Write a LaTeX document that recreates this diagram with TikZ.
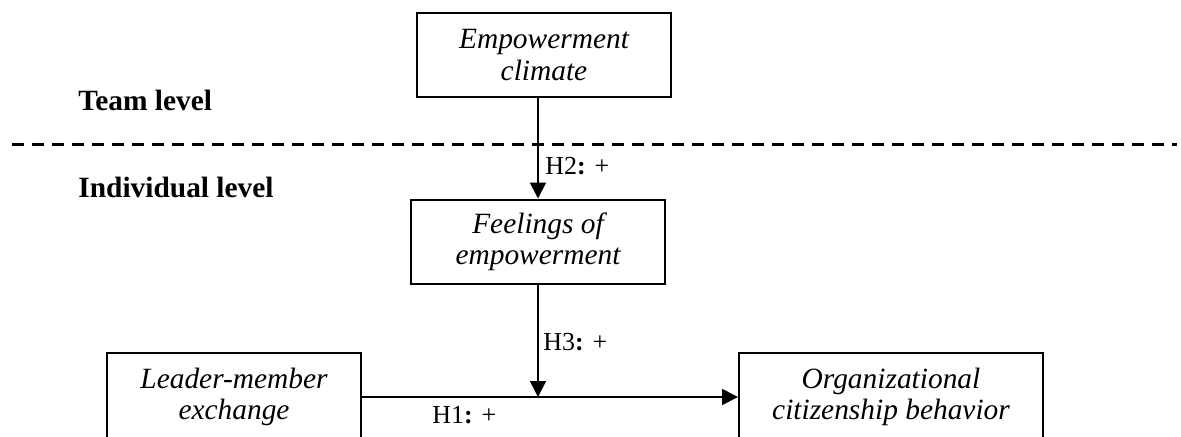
\documentclass[tikz,border=0pt]{standalone}
\usepackage{fontspec}
\setmainfont{Liberation Serif}
\usetikzlibrary{arrows.meta}
\begin{document}
\begin{tikzpicture}[x=0.5pt,y=-0.5pt,
  construct/.style={draw, line width=1pt, minimum width=127pt, minimum height=42pt,
    inner sep=0pt, align=center, font=\fontsize{14.7}{15.6}\selectfont\itshape},
  link/.style={line width=0.9pt, -{Triangle[length=8pt,width=8pt]}},
  hyp/.style={font=\fontsize{13}{15}\selectfont, anchor=base west, inner sep=0pt},
  level/.style={font=\fontsize{14.7}{16}\selectfont\bfseries, anchor=base west, inner sep=0pt},
  divider/.style={line width=1.5pt, dash pattern=on 6pt off 4pt}]
\useasboundingbox (0,0) rectangle (1181,436);

% constructs
\node[construct] (ec) at (544,55) {Empowerment\\climate};
\node[construct] (fe) at (538,241.5) {Feelings of\\empowerment};
\node[construct, minimum height=44pt] (lmx) at (234,397) {Leader-member\\exchange};
\node[construct, minimum height=44pt, minimum width=152pt] (ocb) at (891,397) {Organizational\\citizenship behavior};

% level divider
\coordinate (dl) at (12,144.5);
\coordinate (dr) at (1177,144.5);
\draw[divider] (dl) -- (dr);

\node[level] (team) at (78,110) {Team level};
\node[level] (indiv) at (78,197) {Individual level};

% paths
\draw[link] (fe.north |- ec.south) -- (fe.north);
\coordinate (j) at (fe.south |- lmx.east);
\draw[link] (fe.south) -- (j);
\draw[link] (lmx.east) -- (ocb.west);

% hypotheses
\node[hyp] (h2) at (545,174) {H2\textbf{:} +};
\node[hyp] (h3) at (543,350) {H3\textbf{:} +};
\node[hyp] (h1) at (432,423) {H1\textbf{:} +};
\end{tikzpicture}
\end{document}
